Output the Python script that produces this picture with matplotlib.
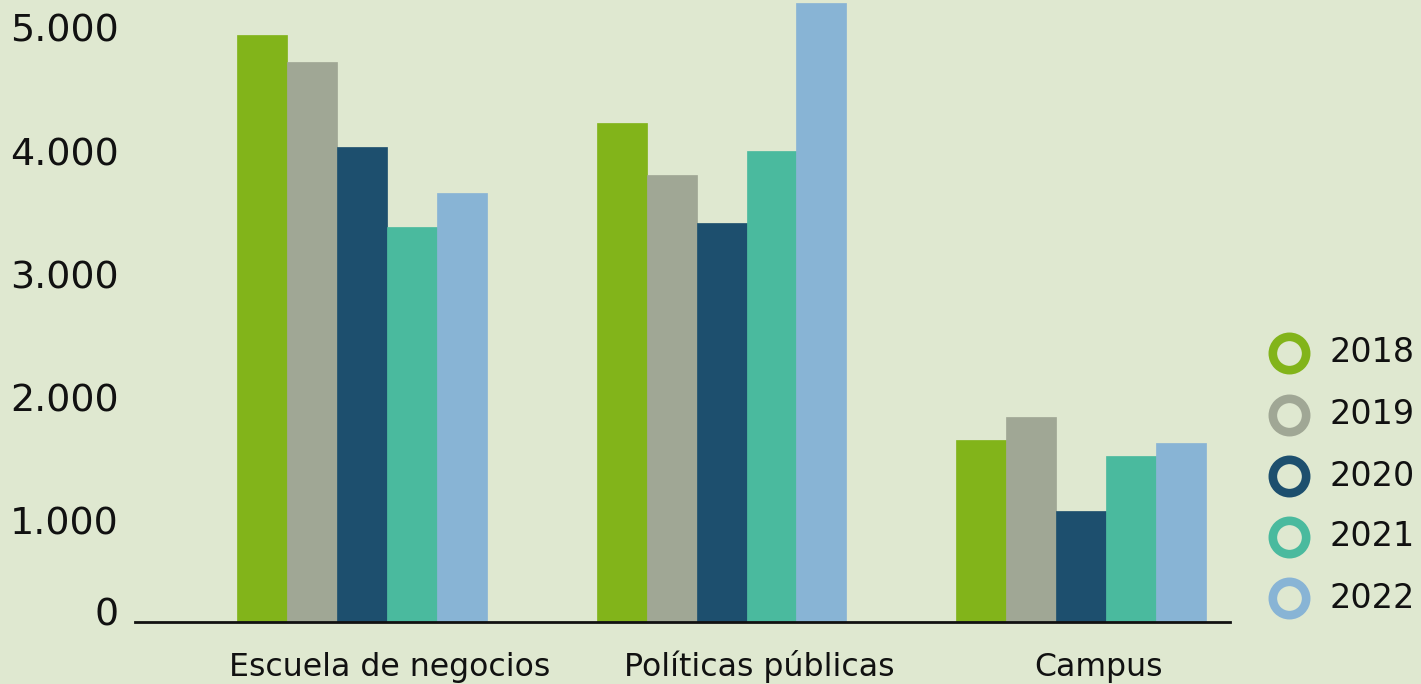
import matplotlib
matplotlib.use("Agg")
import matplotlib.pyplot as plt
import numpy as np
from matplotlib import transforms
from matplotlib.lines import Line2D

# ---- data ----
categories = ["Escuela de negocios", "Políticas públicas", "Campus"]
years = ["2018", "2019", "2020", "2021", "2022"]
v2018 = [4760, 4045, 1480]
v2019 = [4545, 3625, 1665]
v2020 = [3855, 3235, 900]
v2021 = [3205, 3825, 1345]
v2022 = [3480, 5025, 1450]
series = [v2018, v2019, v2020, v2021, v2022]
ytick_values = [0, 1000, 2000, 3000, 4000, 5000]
ytick_labels = ["0", "1.000", "2.000", "3.000", "4.000", "5.000"]

# ---- style ----
colors = ["#82B41A", "#A0A795", "#1D4F6E", "#4ABA9E", "#88B4D5"]
bg = "#DFE8D0"
W, H = 1421, 684

fig = plt.figure(figsize=(W / 100, H / 100), dpi=100, facecolor=bg)
ax = fig.add_axes([135 / W, (H - 622) / H, 1095 / W, 622 / H])
ax.set_facecolor(bg)

x = np.arange(len(categories))
bw = 0.139
for i, (vals, c) in enumerate(zip(series, colors)):
    ax.bar(x + (i - 2) * bw, vals, width=bw, color=c, edgecolor=c, linewidth=0.5, zorder=2)

ax.set_xlim(-0.631, 2.414)
ax.set_ylim(0, 5047)

for s in ["top", "right", "left"]:
    ax.spines[s].set_visible(False)
ax.spines["bottom"].set_linewidth(2)
ax.spines["bottom"].set_color("#111111")
ax.set_xticks([])
ax.set_yticks([])

# y labels (manually offset as in reference)
for v, lab in zip(ytick_values, ytick_labels):
    dy = 7 if v == 0 else -26
    tr = transforms.offset_copy(ax.get_yaxis_transform(), fig=fig, x=-16, y=dy, units="dots")
    ax.text(0, v, lab, transform=tr, ha="right", va="center", fontsize=27.4,
            color="#111111", family="DejaVu Sans")

# category labels
cat_dx = [28, 38, 17]
for xi, lab, dx in zip(x, categories, cat_dx):
    tr = transforms.offset_copy(ax.get_xaxis_transform(), fig=fig, x=dx, y=-54, units="dots")
    ax.text(xi, 0, lab, transform=tr, ha="center", va="baseline", fontsize=22.7,
            color="#111111", family="DejaVu Sans")

# legend (rings + right-aligned year labels)
leg_y = [353, 415, 476, 537, 598]
for yy, lab, c in zip(leg_y, years, colors):
    fy = (H - yy) / H
    fig.add_artist(Line2D([1289 / W], [fy], transform=fig.transFigure, marker="o",
                          markersize=24, markerfacecolor=bg, markeredgecolor=c,
                          markeredgewidth=6.2, linestyle="none"))
    fig.text(1415 / W, fy, lab, ha="right", va="center", fontsize=24,
             color="#111111", family="DejaVu Sans")

fig.savefig("out.png", dpi=100, facecolor=bg)
